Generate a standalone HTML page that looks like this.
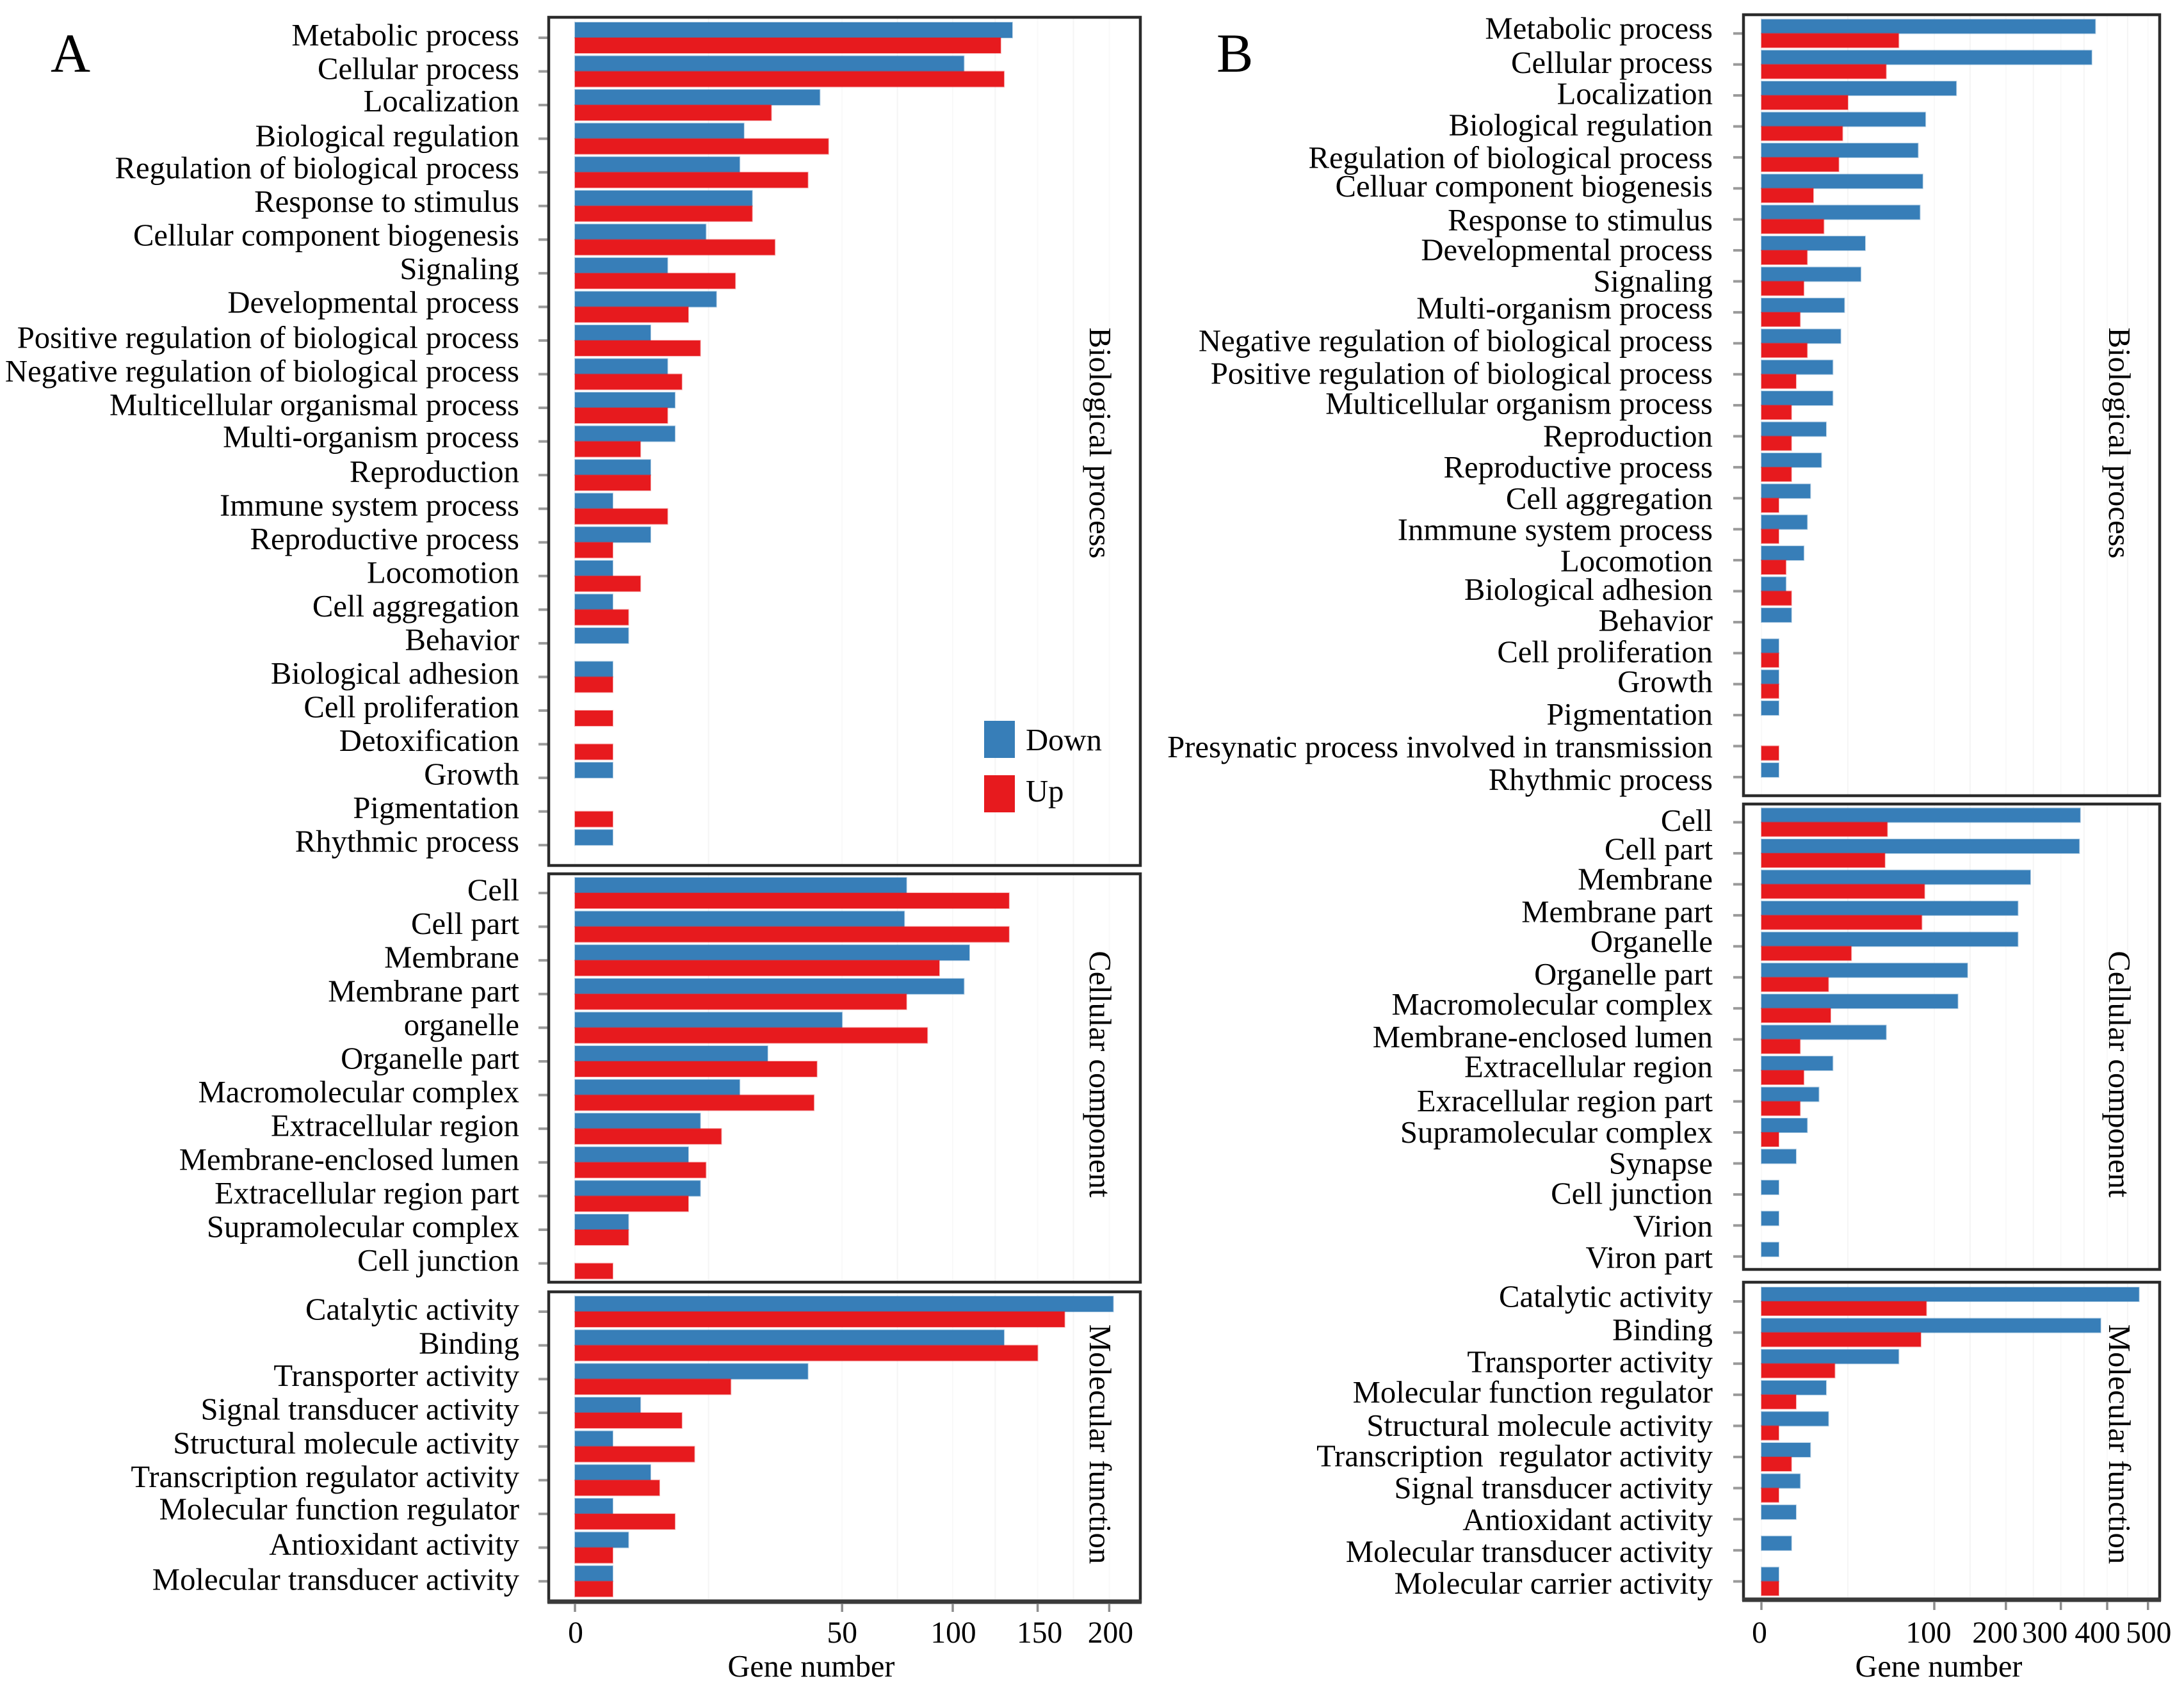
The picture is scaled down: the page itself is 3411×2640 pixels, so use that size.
<!DOCTYPE html>
<html lang="en">
<head>
<meta charset="utf-8">
<title>Gene number by GO category</title>
<style>
html,body{margin:0;padding:0;background:#fff;}
svg{display:block;}
text{font-family:"Liberation Serif","Times New Roman",serif;fill:#000;white-space:pre;}
</style>
</head>
<body>
<svg id="chart" xmlns="http://www.w3.org/2000/svg" width="3411" height="2640" viewBox="0 0 3411 2640">
<rect x="0" y="0" width="3411" height="2640" fill="#fff"/>
</svg>
<script>
const ticksA = [0, 50, 100, 150, 200];
const ticksB = [0, 100, 200, 300, 400, 500];

const bpLabelsA = ["Metabolic process","Cellular process","Localization","Biological regulation","Regulation of biological process","Response to stimulus","Cellular component biogenesis","Signaling","Developmental process","Positive regulation of biological process","Negative regulation of biological process","Multicellular organismal process","Multi-organism process","Reproduction","Immune system process","Reproductive process","Locomotion","Cell aggregation","Behavior","Biological adhesion","Cell proliferation","Detoxification","Growth","Pigmentation","Rhythmic process"];
const bpDownA = [134,106,42,20,19,22,12,6,14,4,6,7,7,4,1,4,1,1,2,1,0,0,1,0,1];
const bpUpA = [127,129,27,45,38,22,28,18,9,11,8,6,3,4,6,1,3,2,0,1,1,1,0,1,0];

const ccLabelsA = ["Cell","Cell part","Membrane","Membrane part","organelle","Organelle part","Macromolecular complex","Extracellular region","Membrane-enclosed lumen","Extracellular region part","Supramolecular complex","Cell junction"];
const ccDownA = [77,76,109,106,50,26,19,11,9,11,2,0];
const ccUpA = [132,132,93,77,87,41,40,15,12,9,2,1];

const mfLabelsA = ["Catalytic activity","Binding","Transporter activity","Signal transducer activity","Structural molecule activity","Transcription regulator activity","Molecular function regulator","Antioxidant activity","Molecular transducer activity"];
const mfDownA = [203,129,38,3,1,4,1,2,1];
const mfUpA = [168,150,17,8,10,5,7,1,1];

const bpLabelsB = ["Metabolic process","Cellular process","Localization","Biological regulation","Regulation of biological process","Celluar component biogenesis","Response to stimulus","Developmental process","Signaling","Multi-organism process","Negative regulation of biological process","Positive regulation of biological process","Multicellular organism process","Reproduction","Reproductive process","Cell aggregation","Inmmune system process","Locomotion","Biological adhesion","Behavior","Cell proliferation","Growth","Pigmentation","Presynatic process involved in transmission","Rhythmic process"];
const bpDownB = [373,365,127,90,82,87,84,36,33,23,21,17,17,14,12,8,7,6,2,3,1,1,1,0,1];
const bpUpB = [63,52,25,22,20,9,13,7,6,5,7,4,3,3,3,1,1,2,3,0,1,1,0,1,0];

const ccLabelsB = ["Cell","Cell part","Membrane","Membrane part","Organelle","Organelle part","Macromolecular complex","Membrane-enclosed lumen","Extracellular region","Exracellular region part","Supramolecular complex","Synapse","Cell junction","Virion","Viron part"];
const ccDownB = [340,338,242,220,220,142,129,52,17,11,7,4,1,1,1];
const ccUpB = [53,51,89,86,27,15,16,5,6,5,1,0,0,0,0];

const mfLabelsB = ["Catalytic activity","Binding","Transporter activity","Molecular function regulator","Structural molecule activity","Transcription  regulator activity","Signal transducer activity","Antioxidant activity","Molecular transducer activity","Molecular carrier activity"];
const mfDownB = [477,385,63,14,15,8,5,4,3,1];
const mfUpB = [91,85,18,4,1,3,1,0,0,1];

const svgNS = "http://www.w3.org/2000/svg";
const svg = document.getElementById("chart");
const BLUE = "#377eb8";
const RED = "#e71a1e";
const FONT = 48.7;

function make(tag, attrs, parent) {
  const e = document.createElementNS(svgNS, tag);
  for (const k in attrs) e.setAttribute(k, attrs[k]);
  (parent || svg).appendChild(e);
  return e;
}

function drawPanel(p) {
  const xOf = v => p.x0 + p.k * Math.sqrt(v);
  const root = make("g", {});
  
  

  const gridG = make("g", {}, root);
  
  
  p.groups.forEach(g => {
    p.ticks.forEach((t, i) => {
      const s = make("line", {x1: xOf(t), x2: xOf(t), y1: g.top, y2: g.bottom, stroke: "#f9f9f9", "stroke-width": 2}, gridG);
      
      
      if (i < p.ticks.length - 1) {
        const midX = (xOf(t) + xOf(p.ticks[i + 1])) / 2;
        const m = make("line", {x1: midX, x2: midX, y1: g.top, y2: g.bottom, stroke: "#f5f5f5", "stroke-width": 2}, gridG);
        
        
      }
    });
  });

  p.groups.forEach(g => {
    const gg = make("g", {}, root);
    
    

    g.labels.forEach((lab, i) => {
      const tickY = g.tickStart + i * g.tickStep;
      const shift = (g.labelShift && g.labelShift[i]) || 0;
      const t = make("text", {x: p.labelRight, y: g.labelStart + i * g.labelStep + shift * 2.175, "text-anchor": "end", "font-size": FONT}, gg);
      t.textContent = lab;
      
      

      const tick = make("line", {x1: p.left - 16, x2: p.left, y1: tickY, y2: tickY, stroke: "#9a9a9a", "stroke-width": 4}, gg);
      
      

      const down = make("rect", {x: p.x0, y: tickY - p.barH, width: xOf(g.down[i]) - p.x0, height: p.barH, fill: BLUE, stroke: g.down[i] > 0 ? BLUE : "none", "stroke-opacity": 0.35, "stroke-width": 2}, gg);
      
      

      const up = make("rect", {x: p.x0, y: tickY, width: xOf(g.up[i]) - p.x0, height: p.barH, fill: RED, stroke: g.up[i] > 0 ? RED : "none", "stroke-opacity": 0.35, "stroke-width": 2}, gg);
      
      
    });

    const frame = make("rect", {x: p.left, y: g.top, width: p.right - p.left, height: g.bottom - g.top, fill: "none", stroke: "#2b2b2b", "stroke-width": p.frameW}, gg);
    
    

    const cy = g.titleY;
    const title = make("text", {x: p.stripX, y: cy, "text-anchor": "middle", "font-size": 48.7, transform: "rotate(90 " + p.stripX + " " + cy + ")"}, gg);
    title.textContent = g.title;
    
    
  });

  const last = p.groups[p.groups.length - 1];
  const thick = make("line", {x1: p.left - 2, x2: p.right + 2, y1: last.bottom, y2: last.bottom, stroke: "#3a3a3a", "stroke-width": 7}, root);
  
  

  p.ticks.forEach((t, i) => {
    const x = xOf(t);
    const tick = make("line", {x1: x, x2: x, y1: last.bottom + 3, y2: last.bottom + 16, stroke: "#8c8c8c", "stroke-width": 3.5}, root);
    
    
    const lab = make("text", {x: x + p.tickNudge[i], y: 2566, "text-anchor": "middle", "font-size": 47.5}, root);
    lab.textContent = String(t);
    
    
  });

  const axisTitle = make("text", {x: p.axisTitleX, y: 2619, "text-anchor": "middle", "font-size": 48.2}, root);
  axisTitle.textContent = "Gene number";
  
  

  const letter = make("text", {x: p.letterX, y: 112, "font-size": 86}, root);
  letter.textContent = p.id;
  
  
}

drawPanel({
  id: "A", x0: 898, k: 59, left: 857, right: 1781, labelRight: 811, barH: 24, frameW: 4.5,
  stripX: 1702, axisTitleX: 1267, letterX: 79, ticks: ticksA, tickNudge: [1, 0, 1, 3, 2],
  groups: [
    {slug: "biological-process", title: "Biological process", labels: bpLabelsA, down: bpDownA, up: bpUpA, top: 27, bottom: 1352, tickStart: 59, tickStep: 52.55, labelStart: 71, labelStep: 52.48, labelShift: [0,0,-1,0,-1,-1,-1,-1,-1,0,0,0,-1], titleY: 692},
    {slug: "cellular-component", title: "Cellular component", labels: ccLabelsA, down: ccDownA, up: ccUpA, top: 1365, bottom: 2003, tickStart: 1395, tickStep: 52.6, labelStart: 1406.5, labelStep: 52.6, titleY: 1678},
    {slug: "molecular-function", title: "Molecular function", labels: mfLabelsA, down: mfDownA, up: mfUpA, top: 2018, bottom: 2502, tickStart: 2049, tickStep: 52.65, labelStart: 2061.5, labelStep: 52.75, labelShift: [0,0,-1,-1,-1,-1,-2,-1,0], titleY: 2256}
  ]
});

drawPanel({
  id: "B", x0: 2751, k: 27, left: 2723, right: 3373, labelRight: 2675, barH: 22, frameW: 4.5,
  stripX: 3294, axisTitleX: 3028, letterX: 1900, ticks: ticksB, tickNudge: [-3, -9, -17, -25, -15, 1],
  groups: [
    {slug: "biological-process", title: "Biological process", labels: bpLabelsB, down: bpDownB, up: bpUpB, top: 23, bottom: 1243, tickStart: 52.3, tickStep: 48.4, labelStart: 60.7, labelStep: 48.8, labelShift: [0,2,2,2,3,1,3,2,2,-1,0,1,0,1,1,1,1,1,-1,-1,-1,-2,-1,0,1], titleY: 692},
    {slug: "cellular-component", title: "Cellular component", labels: ccLabelsB, down: ccDownB, up: ccUpB, top: 1256, bottom: 1983, tickStart: 1284.5, tickStep: 48.45, labelStart: 1298, labelStep: 48.9, labelShift: [0,-2,-3,-2,-3,-2,-3,-2,-3,-1,-1,-1,-2,-1,-1], titleY: 1678},
    {slug: "molecular-function", title: "Molecular function", labels: mfLabelsB, down: mfDownB, up: mfUpB, top: 2003, bottom: 2499, tickStart: 2033, tickStep: 48.6, labelStart: 2041.5, labelStep: 49.8, labelShift: [0,1,1,0,1,0,0,0,0,0], titleY: 2256}
  ]
});

const legend = make("g", {});


const swatchDown = make("rect", {x: 1537, y: 1126, width: 48, height: 58, fill: BLUE}, legend);


const textDown = make("text", {x: 1602, y: 1172, "font-size": FONT}, legend);
textDown.textContent = "Down";


const swatchUp = make("rect", {x: 1537, y: 1211, width: 48, height: 58, fill: RED}, legend);


const textUp = make("text", {x: 1602, y: 1252, "font-size": FONT}, legend);
textUp.textContent = "Up";


</script>
</body>
</html>
